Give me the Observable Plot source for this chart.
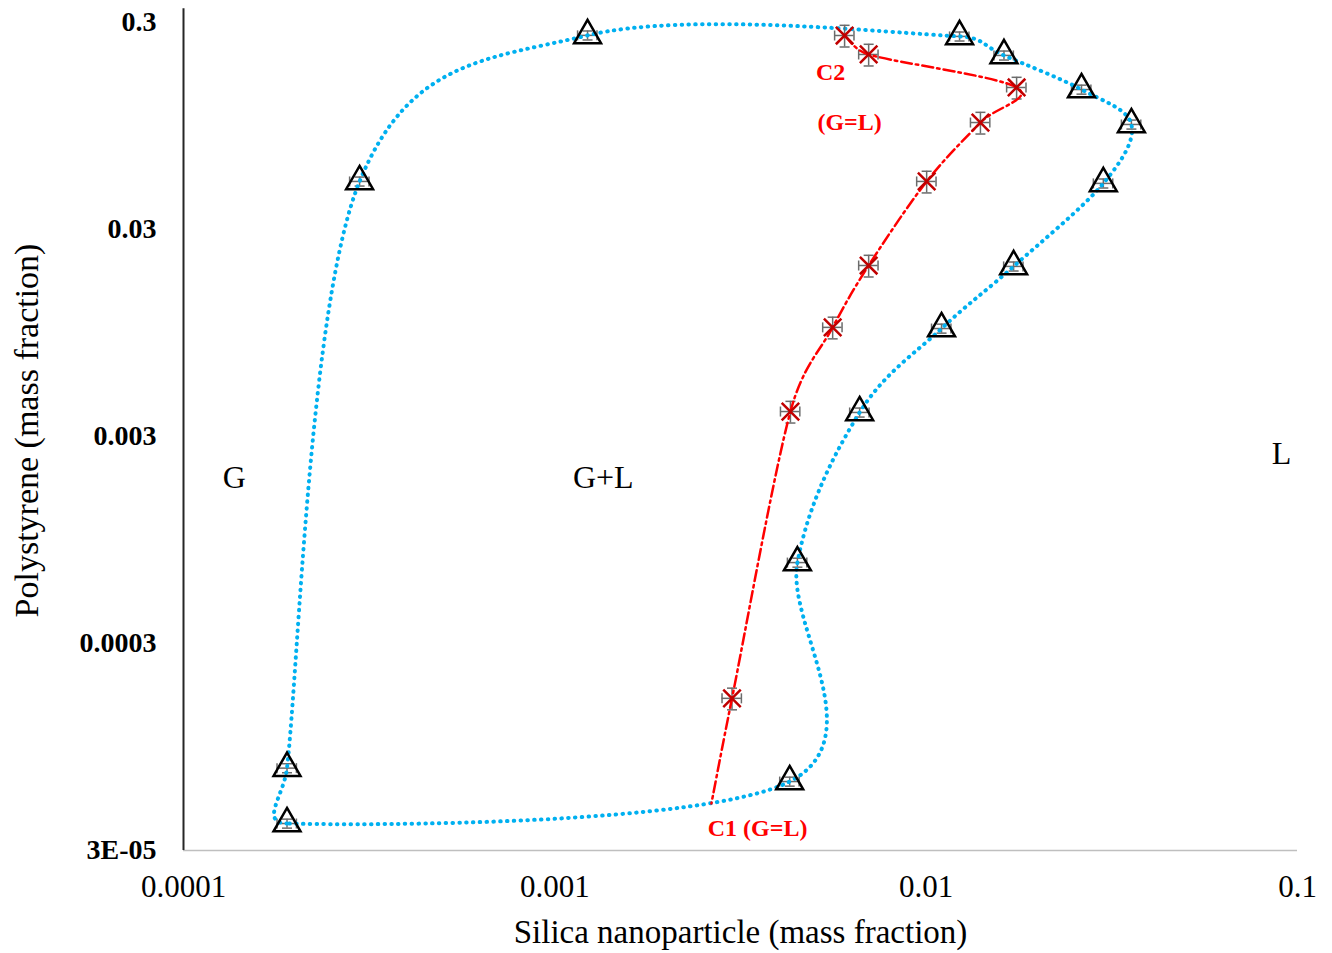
<!DOCTYPE html>
<html>
<head>
<meta charset="utf-8">
<script src="https://cdn.jsdelivr.net/npm/d3@7"></script>
<script src="https://cdn.jsdelivr.net/npm/@observablehq/plot@0.6"></script>
<style>
  html, body { margin: 0; padding: 0; background: #fff; }
  #chart { width: 1332px; height: 953px; }
</style>
</head>
<body>
<div id="chart"></div>
<script>
// ---- Binodal curve (triangles), in loop order ----
const binodalSilica = [0.00019, 0.00019, 0.000298, 0.001225, 0.0123, 0.0162, 0.0262, 0.0357, 0.0300, 0.0172, 0.0110, 0.00662, 0.0045, 0.00429];
const binodalPS     = [4.05e-5, 7.5e-5, 0.0512, 0.26, 0.257, 0.208, 0.1423, 0.0965, 0.0501, 0.0199, 0.00997, 0.00392, 0.000738, 6.46e-5];
const binodalErrX   = [0.06, 0.06, 0.06, 0.06, 0.06, 0.06, 0.06, 0.06, 0.06, 0.06, 0.06, 0.06, 0.06, 0.06];
const binodalErrY   = [0.05, 0.05, 0.05, 0.05, 0.05, 0.05, 0.05, 0.05, 0.05, 0.05, 0.05, 0.05, 0.05, 0.05];

// ---- Critical (G=L) line points (crosses) ----
const critSilica = [0.00603, 0.0070, 0.01752, 0.0140, 0.01003, 0.0070, 0.0056, 0.00431, 0.0030];
const critPS     = [0.2596, 0.2102, 0.1456, 0.0986, 0.0512, 0.0201, 0.0101, 0.00396, 0.000163];
const critErrX   = [0.06, 0.06, 0.06, 0.06, 0.06, 0.06, 0.06, 0.06, 0.06];
const critErrY   = [0.12, 0.12, 0.12, 0.12, 0.12, 0.12, 0.12, 0.12, 0.12];
// end point C1 of the critical line (no marker)
const c1Silica = 0.00264;
const c1PS = 5.06e-5;

// ---- Axes ----
const xTicks = [0.0001, 0.001, 0.01, 0.1];
const xTickLabels = ["0.0001", "0.001", "0.01", "0.1"];
const yTicks = [3e-5, 3e-4, 3e-3, 0.03, 0.3];
const yTickLabels = ["3E-05", "0.0003", "0.003", "0.03", "0.3"];
const xTitle = "Silica nanoparticle (mass fraction)";
const yTitle = "Polystyrene (mass fraction)";

// ---- Annotations ----
const regionLabels = ["G", "G+L", "L"];
const regionX = [0.000137, 0.00135, 0.0906];
const regionY = [0.0019, 0.0019, 0.00248];
const critLabels = ["C2", "(G=L)", "C1 (G=L)"];
const critLabelX = [0.00553, 0.00622, 0.003515];
const critLabelY = [0.172, 0.0986, 3.83e-5];

// ---- build tables ----
const binodal = binodalSilica.map((x, i) => ({x, y: binodalPS[i], ex: binodalErrX[i], ey: binodalErrY[i]}));
const crit = critSilica.map((x, i) => ({x, y: critPS[i], ex: critErrX[i], ey: critErrY[i]}));
const critLine = crit.concat([{x: c1Silica, y: c1PS}]);
const regions = regionLabels.map((t, i) => ({t, x: regionX[i], y: regionY[i]}));
const critAnn = critLabels.map((t, i) => ({t, x: critLabelX[i], y: critLabelY[i]}));
const yTickRows = yTicks.map((v, i) => ({v, t: yTickLabels[i]}));

// spreadsheet-style smoothed curve (cardinal bezier with tangent limited by segment length)
function smoothCurve(closed, k) {
  return function(context) {
    let pts;
    return {
      areaStart() {}, areaEnd() {},
      lineStart() { pts = []; },
      point(x, y) { pts.push([+x, +y]); },
      lineEnd() {
        const n = pts.length;
        if (!n) return;
        context.moveTo(pts[0][0], pts[0][1]);
        if (n === 1) return;
        const get = i => closed ? pts[((i % n) + n) % n] : pts[Math.max(0, Math.min(n - 1, i))];
        const segs = closed ? n : n - 1;
        for (let i = 0; i < segs; i++) {
          const p0 = get(i - 1), p1 = get(i), p2 = get(i + 1), p3 = get(i + 2);
          const d = Math.hypot(p2[0] - p1[0], p2[1] - p1[1]);
          let t1 = [(p2[0] - p0[0]) / 6, (p2[1] - p0[1]) / 6];
          let t2 = [(p3[0] - p1[0]) / 6, (p3[1] - p1[1]) / 6];
          const lim = d * k;
          const l1 = Math.hypot(t1[0], t1[1]), l2 = Math.hypot(t2[0], t2[1]);
          if (l1 > lim) t1 = [t1[0] * lim / l1, t1[1] * lim / l1];
          if (l2 > lim) t2 = [t2[0] * lim / l2, t2[1] * lim / l2];
          context.bezierCurveTo(p1[0] + t1[0], p1[1] + t1[1], p2[0] - t2[0], p2[1] - t2[1], p2[0], p2[1]);
        }
        if (closed) context.closePath();
      }
    };
  };
}

const vbar = {draw(ctx, size) { const r = Math.sqrt(size / Math.PI); ctx.moveTo(0, -r); ctx.lineTo(0, r); }};
const hbar = {draw(ctx, size) { const r = Math.sqrt(size / Math.PI); ctx.moveTo(-r, 0); ctx.lineTo(r, 0); }};

const errColor = "#6b6b6b";
function errorBars(data) {
  return [
    Plot.ruleY(data, {y: "y", x1: d => d.x * (1 - d.ex), x2: d => d.x * (1 + d.ex), stroke: errColor, strokeWidth: 1.5}),
    Plot.ruleX(data, {x: "x", y1: d => d.y * (1 - d.ey), y2: d => d.y * (1 + d.ey), stroke: errColor, strokeWidth: 1.5}),
    Plot.dot(data, {x: d => d.x * (1 - d.ex), y: "y", symbol: vbar, r: 5, stroke: errColor, strokeWidth: 1.5}),
    Plot.dot(data, {x: d => d.x * (1 + d.ex), y: "y", symbol: vbar, r: 5, stroke: errColor, strokeWidth: 1.5}),
    Plot.dot(data, {x: "x", y: d => d.y * (1 - d.ey), symbol: hbar, r: 5, stroke: errColor, strokeWidth: 1.5}),
    Plot.dot(data, {x: "x", y: d => d.y * (1 + d.ey), symbol: hbar, r: 5, stroke: errColor, strokeWidth: 1.5})
  ];
}

const chart = Plot.plot({
  width: 1332,
  height: 953,
  marginLeft: 183,
  marginRight: 35,
  marginTop: 22,
  marginBottom: 103,
  style: {fontFamily: "'Liberation Serif', 'Times New Roman', serif", background: "#fff", color: "#000"},
  x: {type: "log", domain: [1e-4, 0.1], axis: null},
  y: {type: "log", domain: [3e-5, 0.3], axis: null},
  marks: [
    // axis lines
    Plot.ruleY([3e-5], {stroke: "#bfbfbf", strokeWidth: 1.5}),
    Plot.ruleX([1e-4], {y1: 3e-5, y2: 0.35, stroke: "#262626", strokeWidth: 2}),
    // tick labels
    Plot.text(xTicks, {x: d => d, frameAnchor: "bottom", dy: 37, lineAnchor: "middle", text: (d, i) => xTickLabels[i], fontSize: 31, fill: "#000"}),
    Plot.text(yTickRows, {y: "v", frameAnchor: "left", dx: -27, textAnchor: "end", lineAnchor: "middle", text: "t", fontSize: 28, fontWeight: "bold", fill: "#000"}),
    // axis titles
    Plot.text([xTitle], {frameAnchor: "bottom", dy: 82, lineAnchor: "middle", textAnchor: "middle", fontSize: 33, fill: "#000"}),
    Plot.text([yTitle], {frameAnchor: "left", dx: -156, dy: -6, rotate: -90, textAnchor: "middle", lineAnchor: "middle", fontSize: 34, fill: "#000"}),
    // binodal
    ...errorBars(binodal),
    Plot.line(binodal, {x: "x", y: "y", curve: smoothCurve(true, 0.5), stroke: "#00b0f0", strokeWidth: 4, strokeDasharray: "0.5 6.3", strokeLinecap: "round"}),
    Plot.dot(binodal, {x: "x", y: "y", symbol: "triangle", r: 10, stroke: "#000", strokeWidth: 2.5, fill: "none"}),
    // critical line
    ...errorBars(crit),
    Plot.line(critLine, {x: "x", y: "y", curve: smoothCurve(false, 0.5), stroke: "#ff0000", strokeWidth: 2.5, strokeDasharray: "11 4 2.5 4"}),
    Plot.dot(crit, {x: "x", y: "y", symbol: "times", r: 8, stroke: "#c00000", strokeWidth: 2.5}),
    // annotations
    Plot.text(regions, {x: "x", y: "y", text: "t", fontSize: 32, fill: "#000"}),
    Plot.text(critAnn, {x: "x", y: "y", text: "t", fontSize: 24, fontWeight: "bold", fill: "#ff0000"})
  ]
});
document.getElementById("chart").appendChild(chart);
</script>
</body>
</html>
